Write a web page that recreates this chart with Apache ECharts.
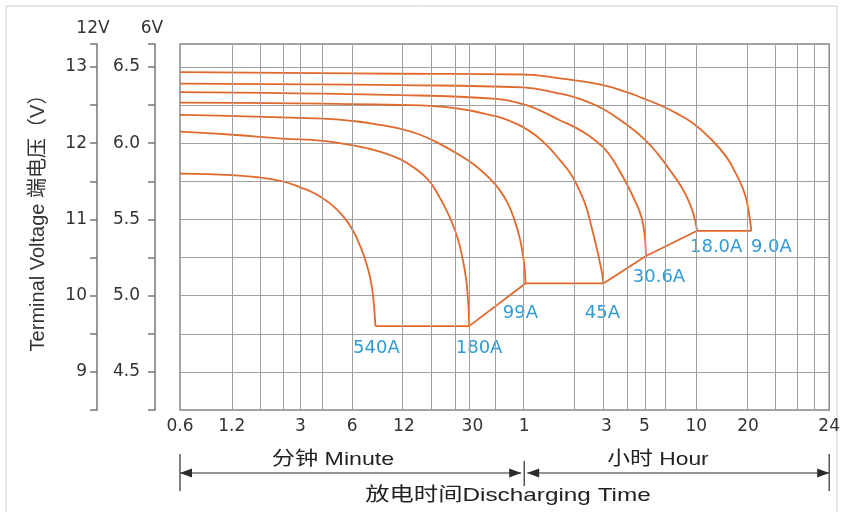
<!DOCTYPE html>
<html>
<head>
<meta charset="utf-8">
<script src="https://cdn.jsdelivr.net/npm/echarts@6/dist/echarts.min.js"></script>
<style>
html,body{margin:0;padding:0;background:#fff;}
#chart{width:843px;height:512px;}
</style>
</head>
<body>
<div id="chart"></div>
<script>
// ---- Data (time in minutes, voltage in 12V units) ----
const xMin = 0.6;
const xMax = 3550;
const tickValues = [0.6, 1.2, 3, 6, 12, 30, 60, 180, 300, 600, 1200, 3550];
const tickLabels = ['0.6', '1.2', '3', '6', '12', '30', '1', '3', '5', '10', '20', '24'];
const gridValues = [1.2, 1.75, 2.4, 3, 4, 6, 11.7, 17.2, 23.8, 28.7, 41, 59.5, 117.6, 173, 237.6, 303.8, 398.5, 601, 1182, 1735, 2320, 2894];

const seriesNames = ['540A', '180A', '99A', '45A', '30.6A', '18.0A', '9.0A'];
const c540 = [[0.6,11.60],[1.2,11.58],[1.73,11.55],[2.35,11.50],[3.0,11.42],[3.65,11.34],[4.46,11.21],[5.24,11.06],[5.98,10.88],[6.51,10.71],[6.96,10.55],[7.31,10.40],[7.61,10.25],[7.87,10.07],[8.03,9.88],[8.14,9.71],[8.2,9.60]];
const c180 = [[0.6,12.15],[1.2,12.11],[2.35,12.06],[4.06,12.03],[6.07,11.97],[8.7,11.89],[11.4,11.79],[13.9,11.67],[16.6,11.52],[18.9,11.33],[21.2,11.12],[23.1,10.93],[24.8,10.73],[26.05,10.53],[27.1,10.33],[27.85,10.14],[28.3,9.94],[28.6,9.77],[28.7,9.60]];
const c99 = [[0.6,12.37],[4.06,12.32],[6.07,12.29],[8.7,12.24],[11.4,12.19],[14.9,12.11],[19.4,11.99],[25.4,11.84],[31.0,11.71],[36.9,11.56],[42.7,11.40],[48.2,11.21],[52.9,10.98],[56.6,10.75],[59.1,10.52],[60.5,10.33],[61,10.16]];
const c45 = [[0.6,12.53],[11.4,12.50],[23.7,12.46],[41.4,12.35],[49.5,12.29],[59.1,12.21],[71.0,12.09],[84.5,11.93],[96.6,11.78],[107.5,11.65],[116.5,11.53],[126.2,11.37],[138.1,11.15],[148.1,10.89],[157.3,10.65],[165,10.44],[170.5,10.28],[173,10.16]];
const c30 = [[0.6,12.67],[11.4,12.63],[41.4,12.58],[59.1,12.51],[73.9,12.43],[96.6,12.30],[118,12.21],[144.2,12.09],[171.6,11.95],[185.9,11.86],[201,11.75],[236,11.47],[263.3,11.25],[288,11.03],[300.8,10.79],[306,10.52]];
const c18 = [[0.6,12.78],[11.4,12.76],[59.1,12.73],[96.6,12.65],[126.2,12.58],[171.6,12.45],[230.3,12.26],[294,12.07],[358.1,11.86],[420,11.65],[487.1,11.44],[542,11.24],[579.5,11.06],[607,10.85]];
const c9 = [[0.6,12.93],[11.4,12.91],[59.1,12.90],[96.6,12.85],[165,12.77],[236,12.67],[293,12.59],[368,12.50],[461.6,12.39],[574,12.26],[717.7,12.07],[897,11.82],[1030,11.58],[1146,11.34],[1209.6,11.10],[1253,10.85]];
const cutoff = [[8.2,9.60],[28.7,9.60],[61,10.16],[173,10.16],[306,10.52],[607,10.85],[1253,10.85]];
const curves = [c540, c180, c99, c45, c30, c18, c9];

// ---- Styles / layout ----
const curveColor = '#e2692b';
const labelColor = '#2f9bd6';
const gridColor = '#a0a0a0';
const labelOffsets = [[1,22],[10,22],[-5,30],[-1,30],[13,21],[19,17],[20,17]];
const axisFont = 'DejaVu Sans, Liberation Sans, sans-serif';
const textFont = 'Liberation Sans, Arial, "Noto Sans CJK SC", sans-serif';

const chart = echarts.init(document.getElementById('chart'), null, {renderer: 'canvas'});

function labelFor(v) {
  for (let i = 0; i < tickValues.length; i++) {
    if (Math.abs(tickValues[i] - v) / tickValues[i] < 1e-4) return tickLabels[i];
  }
  return '';
}

const series = [];
series.push({
  type: 'line', name: 'grid', data: [], z: 1, silent: true,
  markLine: {
    silent: true, symbol: ['none', 'none'], animation: false,
    label: {show: false},
    lineStyle: {color: gridColor, width: 1, type: 'solid'},
    data: gridValues.map(v => ({xAxis: v}))
  }
});
curves.forEach((d, i) => {
  series.push({
    type: 'line', name: seriesNames[i], data: d, z: 3,
    smooth: 0.45, showSymbol: false, symbol: 'none',
    lineStyle: {color: curveColor, width: 1.8},
    itemStyle: {color: curveColor},
    endLabel: {
      show: true, formatter: seriesNames[i], distance: 0,
      align: 'center', verticalAlign: 'middle',
      offset: labelOffsets[i],
      color: labelColor, fontSize: 18, fontFamily: axisFont
    }
  });
});
series.push({
  type: 'line', name: 'cutoff', data: cutoff, z: 3,
  showSymbol: false, symbol: 'none',
  lineStyle: {color: curveColor, width: 1.8}
});

chart.setOption({
  animation: false,
  backgroundColor: '#fff',
  grid: {left: 180, right: 13.5, top: 44, bottom: 102, show: true, borderColor: '#8a8a8a', borderWidth: 1.5, backgroundColor: 'transparent'},
  xAxis: {
    type: 'log', logBase: 10, min: xMin, max: xMax,
    axisLine: {show: false}, axisTick: {show: false}, splitLine: {show: false},
    axisLabel: {
      customValues: tickValues, formatter: v => labelFor(v),
      fontSize: 17, fontFamily: axisFont, color: '#333', margin: 8,
      showMinLabel: true, showMaxLabel: true, hideOverlap: false
    }
  },
  yAxis: [
    {
      type: 'value', min: 8.5, max: 13.3, interval: 0.5, position: 'left', offset: 83,
      name: '12V', nameLocation: 'end', nameGap: 7,
      nameTextStyle: {fontSize: 17, fontFamily: axisFont, color: '#333', padding: [0, 8, 0, 0]},
      axisLine: {show: true, lineStyle: {color: '#777', width: 1.5}},
      axisTick: {show: true, length: 7, lineStyle: {color: '#777', width: 1.5}},
      axisLabel: {formatter: v => (Math.abs(v - Math.round(v)) < 1e-6 ? String(Math.round(v)) : ''), fontSize: 17, fontFamily: axisFont, color: '#333', margin: 10},
      splitLine: {show: true, lineStyle: {color: gridColor, width: 1}}
    },
    {
      type: 'value', min: 4.25, max: 6.65, interval: 0.25, position: 'left', offset: 25,
      name: '6V', nameLocation: 'end', nameGap: 7,
      nameTextStyle: {fontSize: 17, fontFamily: axisFont, color: '#333', padding: [0, 6, 0, 0]},
      axisLine: {show: true, lineStyle: {color: '#777', width: 1.5}},
      axisTick: {show: true, length: 7, lineStyle: {color: '#777', width: 1.5}},
      axisLabel: {formatter: v => (Math.abs(v * 2 - Math.round(v * 2)) < 1e-6 ? v.toFixed(1) : ''), fontSize: 17, fontFamily: axisFont, color: '#333', margin: 15},
      splitLine: {show: false}
    }
  ],
  series: series
});

// ---- Decorations: time brackets, titles ----
const xa = chart.convertToPixel({xAxisIndex: 0}, xMin);
const xb = chart.convertToPixel({xAxisIndex: 0}, 60);
const xc = chart.convertToPixel({xAxisIndex: 0}, xMax);
const ay = 473;
const ink = '#2b2b2b';
function arrow(tipX, dir) {
  return {type: 'polygon', shape: {points: [[tipX, ay], [tipX + dir * 12, ay - 4.5], [tipX + dir * 12, ay + 4.5]]}, style: {fill: ink}};
}
chart.setOption({
  graphic: [
    {type: 'rect', shape: {x: 6, y: 6, width: 831, height: 530}, style: {fill: 'none', stroke: '#cfcfcf', lineWidth: 1}, silent: true},
    {type: 'line', shape: {x1: xa, y1: 454, x2: xa, y2: 491}, style: {stroke: ink, lineWidth: 1.2}},
    {type: 'line', shape: {x1: xc, y1: 454, x2: xc, y2: 491}, style: {stroke: ink, lineWidth: 1.2}},
    {type: 'line', shape: {x1: xb, y1: 461, x2: xb, y2: 486}, style: {stroke: ink, lineWidth: 1.2}},
    {type: 'line', shape: {x1: xa, y1: ay, x2: xb - 3, y2: ay}, style: {stroke: ink, lineWidth: 1.2}},
    {type: 'line', shape: {x1: xb + 3, y1: ay, x2: xc, y2: ay}, style: {stroke: ink, lineWidth: 1.2}},
    arrow(xa, 1), arrow(xb - 3, -1), arrow(xb + 3, 1), arrow(xc, -1),
    {type: 'text', x: 333, y: 460, scaleX: 1.22, style: {text: '分钟 Minute', fontSize: 19, fontFamily: textFont, fill: '#222', align: 'center', verticalAlign: 'middle'}},
    {type: 'text', x: 658, y: 460, scaleX: 1.2, style: {text: '小时 Hour', fontSize: 19, fontFamily: textFont, fill: '#222', align: 'center', verticalAlign: 'middle'}},
    {type: 'text', x: 508, y: 496, scaleX: 1.28, style: {text: '放电时间Discharging Time', fontSize: 19, fontFamily: textFont, fill: '#222', align: 'center', verticalAlign: 'middle'}},
    {type: 'text', x: 38, y: 218, rotation: Math.PI / 2, style: {text: 'Terminal Voltage 端电压（V）', fontSize: 20, fontFamily: textFont, fill: '#333', align: 'center', verticalAlign: 'middle'}}
  ]
});
</script>
</body>
</html>
